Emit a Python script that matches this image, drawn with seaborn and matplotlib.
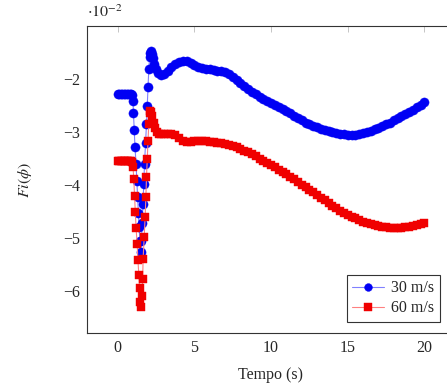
import numpy as np
import pandas as pd
import matplotlib
matplotlib.use('Agg')
import matplotlib.pyplot as plt
import seaborn as sns

# dados (valores em unidades de 1e-2)
tempo_30 = [0.0, 0.1, 0.2, 0.3, 0.4, 0.5, 0.6, 0.7, 0.8, 0.9, 0.95, 1.0,
            1.03, 1.08, 1.13, 1.2, 1.25, 1.3, 1.35, 1.4, 1.45, 1.5,
            1.55, 1.6, 1.65, 1.7, 1.75, 1.82, 1.88, 1.93, 1.98, 2.03, 2.08, 2.13, 2.18, 2.23,
            2.3, 2.4, 2.5, 2.65, 2.8, 3.0, 3.25, 3.5, 3.75, 4.0, 4.25, 4.5, 4.75,
            5.0, 5.25, 5.5, 5.75, 6.0, 6.25, 6.5, 6.75, 7.0, 7.25, 7.5, 7.75,
            8.0, 8.25, 8.5, 8.75, 9.0, 9.25, 9.5, 9.75, 10.0, 10.25, 10.5, 10.75,
            11.0, 11.25, 11.5, 11.75, 12.0, 12.25, 12.5, 12.75, 13.0, 13.25, 13.5, 13.75,
            14.0, 14.25, 14.5, 14.75, 15.0, 15.25, 15.5, 15.75, 16.0, 16.25, 16.5, 16.75,
            17.0, 17.25, 17.5, 17.75, 18.0, 18.25, 18.5, 18.75, 19.0, 19.25, 19.5, 19.75, 20.0]
fi_30 = [-2.28, -2.28, -2.28, -2.28, -2.28, -2.28, -2.28, -2.28, -2.28, -2.28, -2.30, -2.41,
         -2.65, -2.96, -3.29, -3.60, -3.92, -4.22, -4.52, -4.80, -5.05, -5.27,
         -5.05, -4.72, -4.35, -3.98, -3.60, -3.20, -2.85, -2.50, -2.15, -1.82, -1.58, -1.50, -1.48, -1.52,
         -1.60, -1.72, -1.81, -1.88, -1.92, -1.91, -1.85, -1.77, -1.71, -1.68, -1.66, -1.66, -1.70,
         -1.74, -1.78, -1.80, -1.81, -1.82, -1.83, -1.84, -1.85, -1.87, -1.91, -1.96, -2.02,
         -2.08, -2.14, -2.19, -2.24, -2.29, -2.33, -2.37, -2.41, -2.45, -2.49, -2.53, -2.57,
         -2.61, -2.65, -2.70, -2.74, -2.78, -2.82, -2.85, -2.88, -2.91, -2.94, -2.96, -2.98,
         -3.00, -3.02, -3.03, -3.04, -3.05, -3.05, -3.05, -3.04, -3.02, -3.00, -2.98, -2.95,
         -2.92, -2.89, -2.85, -2.82, -2.78, -2.74, -2.70, -2.66, -2.62, -2.58, -2.53, -2.49, -2.44]

tempo_60 = [0.0, 0.1, 0.2, 0.3, 0.4, 0.5, 0.6, 0.7, 0.8, 0.9, 0.95, 1.0,
            1.05, 1.1, 1.15, 1.2, 1.27, 1.32, 1.38, 1.43, 1.48, 1.53,
            1.58, 1.63, 1.66, 1.73, 1.79, 1.84, 1.88, 1.93, 1.98, 2.03, 2.08, 2.13, 2.18,
            2.25, 2.35, 2.45, 2.55, 2.7, 2.85, 3.0, 3.25, 3.5, 3.75, 4.0, 4.25, 4.5, 4.75,
            5.0, 5.25, 5.5, 5.75, 6.0, 6.25, 6.5, 6.75, 7.0, 7.25, 7.5, 7.75,
            8.0, 8.25, 8.5, 8.75, 9.0, 9.25, 9.5, 9.75, 10.0, 10.25, 10.5, 10.75,
            11.0, 11.25, 11.5, 11.75, 12.0, 12.25, 12.5, 12.75, 13.0, 13.25, 13.5, 13.75,
            14.0, 14.25, 14.5, 14.75, 15.0, 15.25, 15.5, 15.75, 16.0, 16.25, 16.5, 16.75,
            17.0, 17.25, 17.5, 17.75, 18.0, 18.25, 18.5, 18.75, 19.0, 19.25, 19.5, 19.75, 20.0]
fi_60 = [-3.55, -3.55, -3.55, -3.55, -3.55, -3.55, -3.55, -3.55, -3.55, -3.55, -3.56, -3.65,
         -3.88, -4.20, -4.51, -4.81, -5.11, -5.41, -5.69, -5.95, -6.21, -6.30,
         -6.10, -5.77, -5.39, -4.98, -4.61, -4.23, -3.85, -3.51, -3.16, -2.85, -2.65, -2.60, -2.62,
         -2.70, -2.82, -2.92, -2.99, -3.03, -3.04, -3.04, -3.04, -3.04, -3.06, -3.12, -3.17, -3.19, -3.18,
         -3.17, -3.16, -3.16, -3.17, -3.18, -3.19, -3.20, -3.21, -3.22, -3.24, -3.26, -3.29,
         -3.32, -3.35, -3.38, -3.42, -3.46, -3.50, -3.54, -3.58, -3.62, -3.66, -3.71, -3.75,
         -3.80, -3.85, -3.89, -3.94, -3.99, -4.04, -4.09, -4.14, -4.19, -4.24, -4.29, -4.34,
         -4.39, -4.44, -4.48, -4.52, -4.56, -4.60, -4.63, -4.66, -4.69, -4.72, -4.74, -4.76,
         -4.78, -4.79, -4.80, -4.81, -4.81, -4.81, -4.81, -4.80, -4.79, -4.77, -4.76, -4.74, -4.72]

rotulos = ['30 m/s', '60 m/s']

df_30 = pd.DataFrame({'tempo': tempo_30, 'fi': fi_30})
df_60 = pd.DataFrame({'tempo': tempo_60, 'fi': fi_60})

sns.set_style('white')
plt.rcParams['font.family'] = ['Liberation Serif', 'DejaVu Serif']
plt.rcParams['mathtext.fontset'] = 'stix'

fig = plt.figure(figsize=(4.47, 3.85), dpi=100)
# o eixo passa um pouco da borda direita (figura original cortada)
ax = fig.add_axes([87 / 447, 52 / 385, 368 / 447, 307 / 385])

sns.lineplot(data=df_30, x='tempo', y='fi', ax=ax, sort=False, estimator=None,
             color='#8080ff', linewidth=0.8, marker='o', markersize=6.6,
             markerfacecolor='#0000f4', markeredgecolor='#0000f4', markeredgewidth=0.3,
             label=rotulos[0])
sns.lineplot(data=df_60, x='tempo', y='fi', ax=ax, sort=False, estimator=None,
             color='#ff8080', linewidth=0.8, marker='s', markersize=6.2,
             markerfacecolor='#f00000', markeredgecolor='#f00000', markeredgewidth=0.3,
             label=rotulos[1])

ax.set_xlim(-2.0, 22.0)
ax.set_ylim(-6.79, -1.0)
ax.set_xticks([0, 5, 10, 15, 20])
ax.set_yticks([-6, -5, -4, -3, -2])
ax.set_yticklabels(['\u22126', '\u22125', '\u22124', '\u22123', '\u22122'])

for lado in ['left', 'right', 'top', 'bottom']:
    ax.spines[lado].set_color('#333333')
    ax.spines[lado].set_linewidth(0.8)
ax.tick_params(direction='in', length=4, width=0.6, color='#bbbbbb',
               top=True, right=True, labelsize=11.5, pad=5)

ax.set_xlabel('Tempo (s)', fontsize=11.5, labelpad=8)
ax.set_ylabel(r'$Fi(\phi)$', fontsize=11.5)
ax.yaxis.set_label_coords(-0.145, 0.5)
ax.text(0.0, 1.015, r'$\cdot10^{-2}$', transform=ax.transAxes, fontsize=11.5,
        ha='left', va='bottom')

leg = ax.legend(loc='lower right', bbox_to_anchor=(440 / 447, 63 / 385),
                bbox_transform=fig.transFigure, fontsize=11.5, frameon=True,
                fancybox=False, edgecolor='#333333', framealpha=1, borderpad=0.35,
                handlelength=2.0, handletextpad=0.45, labelspacing=0.25,
                borderaxespad=0.0, markerscale=0.85)
leg.get_frame().set_linewidth(0.8)

fig.savefig('out.png', dpi=100)
